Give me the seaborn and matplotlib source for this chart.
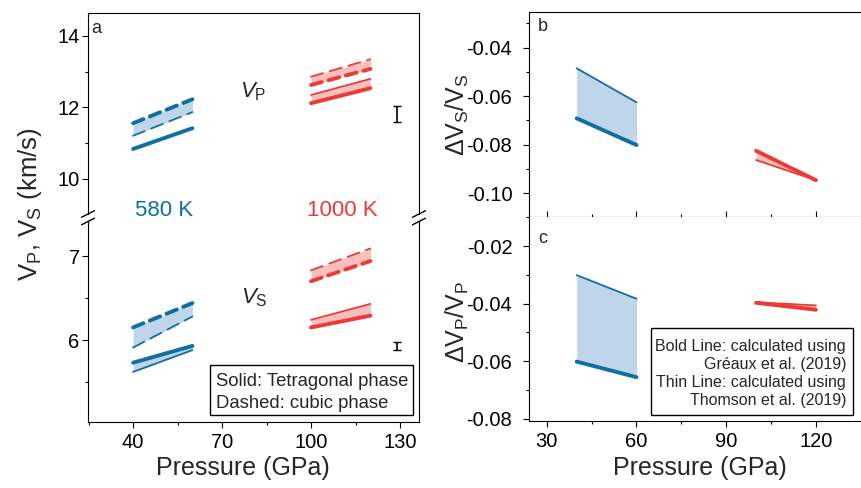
import numpy as np
import pandas as pd
import matplotlib
matplotlib.use("Agg")
import matplotlib.pyplot as plt
import seaborn as sns
from matplotlib.lines import Line2D
from matplotlib.patches import Rectangle
from matplotlib.ticker import MultipleLocator, FixedLocator

# ---------------- data ----------------
P_580 = [40, 60]
P_1000 = [100, 120]

# Panel a, VP (km/s)
vp_580_tet_bold = [10.84, 11.42]
vp_580_cub_bold = [11.56, 12.23]
vp_580_cub_thin = [11.21, 11.87]
vp_1000_tet_bold = [12.12, 12.54]
vp_1000_tet_thin = [12.35, 12.80]
vp_1000_cub_bold = [12.63, 13.08]
vp_1000_cub_thin = [12.86, 13.35]

# Panel a, VS (km/s)
vs_580_tet_bold = [5.73, 5.93]
vs_580_tet_thin = [5.62, 5.88]
vs_580_cub_bold = [6.15, 6.44]
vs_580_cub_thin = [5.91, 6.28]
vs_1000_tet_bold = [6.15, 6.29]
vs_1000_tet_thin = [6.24, 6.43]
vs_1000_cub_bold = [6.70, 6.94]
vs_1000_cub_thin = [6.83, 7.09]

# error bars
err_P = [129]
vp_err_y = [11.82]
vp_err = [0.22]
vs_err_y = [5.93]
vs_err = [0.05]

# Panel b, dVs/Vs
dvs_580_bold = [-0.0691, -0.0801]
dvs_580_thin = [-0.0485, -0.0625]
dvs_1000_bold = [-0.0825, -0.0946]
dvs_1000_thin = [-0.0863, -0.0946]

# Panel c, dVp/Vp
dvp_580_bold = [-0.0601, -0.0655]
dvp_580_thin = [-0.0301, -0.0383]
dvp_1000_bold = [-0.0397, -0.0421]
dvp_1000_thin = [-0.0395, -0.0406]

xticks_a = [40, 70, 100, 130]
xminor_a = [25, 55, 85, 115]
xticks_bc = [30, 60, 90, 120]
xminor_bc = [45, 75, 105]

# ---------------- style ----------------
sns.set_theme(style="ticks")
plt.rcParams.update({
    "font.family": ["Liberation Sans", "DejaVu Sans"],
    "mathtext.fontset": "custom",
    "mathtext.rm": "Liberation Sans",
    "mathtext.it": "Liberation Sans:italic",
    "mathtext.bf": "Liberation Sans:bold",
    "lines.scale_dashes": False,
    "axes.edgecolor": "black",
    "axes.linewidth": 0.8,
    "xtick.color": "black",
    "ytick.color": "black",
})

BLUE = "#0f6fa3"
RED = "#ec3b37"
BLUE_F = "#bfd6ea"
RED_F = "#f8c0bd"
LW_B = 2.8
LW_T = 1.3
DASH_B = (0, (8, 5))
DASH_T = (0, (9, 5))

W, H = 861, 488
fig = plt.figure(figsize=(W / 100, H / 100), dpi=100)


def rect(l, t, r, b):
    return [l / W, 1 - b / H, (r - l) / W, (b - t) / H]


ax_vp = fig.add_axes(rect(88, 13, 419, 214))
ax_vs = fig.add_axes(rect(88, 221, 419, 422))
ax_b = fig.add_axes(rect(529, 12, 862, 217))
ax_c = fig.add_axes(rect(529, 217, 862, 421))


def line(ax, x, y, color, lw, ls="-"):
    sns.lineplot(x=x, y=y, ax=ax, color=color, lw=lw, linestyle=ls,
                 solid_capstyle="round", dash_capstyle="round", zorder=3)


def fill(ax, x, y1, y2, color):
    ax.fill_between(x, y1, y2, color=color, lw=0, zorder=2)


# ---- panel a, VP ----
fill(ax_vp, P_580, vp_580_cub_thin, vp_580_cub_bold, BLUE_F)
fill(ax_vp, P_1000, vp_1000_cub_bold, vp_1000_cub_thin, RED_F)
fill(ax_vp, P_1000, vp_1000_tet_bold, vp_1000_tet_thin, RED_F)
line(ax_vp, P_580, vp_580_tet_bold, BLUE, LW_B)
line(ax_vp, P_580, vp_580_cub_bold, BLUE, LW_B, DASH_B)
line(ax_vp, P_580, vp_580_cub_thin, BLUE, LW_T, DASH_T)
line(ax_vp, P_1000, vp_1000_tet_bold, RED, LW_B)
line(ax_vp, P_1000, vp_1000_tet_thin, RED, LW_T)
line(ax_vp, P_1000, vp_1000_cub_bold, RED, LW_B, DASH_B)
line(ax_vp, P_1000, vp_1000_cub_thin, RED, LW_T, DASH_T)
ax_vp.errorbar(err_P, vp_err_y, yerr=vp_err, fmt="none", ecolor="black",
               elinewidth=1.2, capsize=3, capthick=1.0)

# ---- panel a, VS ----
fill(ax_vs, P_580, vs_580_cub_thin, vs_580_cub_bold, BLUE_F)
fill(ax_vs, P_580, vs_580_tet_thin, vs_580_tet_bold, BLUE_F)
fill(ax_vs, P_1000, vs_1000_cub_bold, vs_1000_cub_thin, RED_F)
fill(ax_vs, P_1000, vs_1000_tet_bold, vs_1000_tet_thin, RED_F)
line(ax_vs, P_580, vs_580_tet_bold, BLUE, LW_B)
line(ax_vs, P_580, vs_580_tet_thin, BLUE, LW_T)
line(ax_vs, P_580, vs_580_cub_bold, BLUE, LW_B, DASH_B)
line(ax_vs, P_580, vs_580_cub_thin, BLUE, LW_T, DASH_T)
line(ax_vs, P_1000, vs_1000_tet_bold, RED, LW_B)
line(ax_vs, P_1000, vs_1000_tet_thin, RED, LW_T)
line(ax_vs, P_1000, vs_1000_cub_bold, RED, LW_B, DASH_B)
line(ax_vs, P_1000, vs_1000_cub_thin, RED, LW_T, DASH_T)
ax_vs.errorbar(err_P, vs_err_y, yerr=vs_err, fmt="none", ecolor="black",
               elinewidth=1.2, capsize=3, capthick=1.0)

# ---- panel b ----
fill(ax_b, P_580, dvs_580_bold, dvs_580_thin, BLUE_F)
fill(ax_b, P_1000, dvs_1000_thin, dvs_1000_bold, RED_F)
line(ax_b, P_580, dvs_580_bold, BLUE, LW_B)
line(ax_b, P_580, dvs_580_thin, BLUE, LW_T)
line(ax_b, P_1000, dvs_1000_bold, RED, LW_B)
line(ax_b, P_1000, dvs_1000_thin, RED, LW_T)

# ---- panel c ----
fill(ax_c, P_580, dvp_580_bold, dvp_580_thin, BLUE_F)
fill(ax_c, P_1000, dvp_1000_bold, dvp_1000_thin, RED_F)
line(ax_c, P_580, dvp_580_bold, BLUE, LW_B)
line(ax_c, P_580, dvp_580_thin, BLUE, LW_T)
line(ax_c, P_1000, dvp_1000_bold, RED, LW_B)
line(ax_c, P_1000, dvp_1000_thin, RED, LW_T)

# ---------------- axes ----------------
TICK_FS = 14.5
for ax in (ax_vp, ax_vs, ax_b, ax_c):
    ax.set_xlabel("")
    ax.set_ylabel("")
    ax.tick_params(which="major", length=4, width=0.8, labelsize=TICK_FS, pad=2)
    ax.tick_params(which="minor", length=2.2, width=0.8)

ax_vp.set_xlim(24.8, 136.4)
ax_vs.set_xlim(24.8, 136.4)
ax_vp.set_ylim(9.021, 14.643)
ax_vs.set_ylim(5.024, 7.417)
ax_vp.yaxis.set_major_locator(MultipleLocator(2))
ax_vp.yaxis.set_minor_locator(MultipleLocator(1))
ax_vs.yaxis.set_major_locator(MultipleLocator(1))
ax_vs.yaxis.set_minor_locator(MultipleLocator(0.5))
ax_vs.set_xticks(xticks_a)
ax_vs.xaxis.set_minor_locator(FixedLocator(xminor_a))
ax_vp.tick_params(axis="x", which="both", bottom=False, labelbottom=False)
ax_vp.spines["bottom"].set_visible(False)
ax_vs.spines["top"].set_visible(False)
ax_vs.tick_params(axis="x", which="major", pad=4)

for ax in (ax_b, ax_c):
    ax.set_xlim(24.06, 135.4)
    ax.set_xticks(xticks_bc)
    ax.xaxis.set_minor_locator(FixedLocator(xminor_bc))
    ax.yaxis.set_major_locator(MultipleLocator(0.02))
    ax.yaxis.set_minor_locator(MultipleLocator(0.01))
    ax.spines["right"].set_visible(False)
    ax.yaxis.set_major_formatter(matplotlib.ticker.FuncFormatter(lambda v, p: f"{v:.2f}"))
    ax.tick_params(axis="y", which="major", pad=8)
ax_b.set_ylim(-0.10977, -0.02529)
ax_c.set_ylim(-0.0807, -0.00994)
ax_b.tick_params(axis="x", which="both", direction="in", labelbottom=False)
ax_c.spines["top"].set_visible(False)
ax_c.tick_params(axis="x", which="major", pad=4)

# ---------------- break marks ----------------
for xc in (88, 419):
    for yc in (214, 221.5):
        fig.add_artist(Line2D([(xc - 6.5) / W, (xc + 6.5) / W],
                              [1 - (yc + 3.3) / H, 1 - (yc - 3.3) / H],
                              color="black", lw=1.0))

# ---------------- texts ----------------
LAB_FS = 18
fig.text(30 / W, 1 - 204 / H, r"V$_\mathrm{P}$, V$_\mathrm{S}$ (km/s)", rotation=90,
         ha="center", va="center", fontsize=18.5)
fig.text(457 / W, 1 - 115 / H, r"ΔV$_\mathrm{S}$/V$_\mathrm{S}$", rotation=90,
         ha="center", va="center", fontsize=LAB_FS)
fig.text(457 / W, 1 - 322 / H, r"ΔV$_\mathrm{P}$/V$_\mathrm{P}$", rotation=90,
         ha="center", va="center", fontsize=LAB_FS)
fig.text(243 / W, 1 - 468 / H, "Pressure (GPa)", ha="center", va="center", fontsize=LAB_FS)
fig.text(700 / W, 1 - 468 / H, "Pressure (GPa)", ha="center", va="center", fontsize=LAB_FS)

ax_vp.text(0.024, 0.925, "a", transform=ax_vp.transAxes, ha="center", va="center", fontsize=13)
ax_b.text(0.042, 0.927, "b", transform=ax_b.transAxes, ha="center", va="center", fontsize=13)
ax_c.text(0.040, 0.897, "c", transform=ax_c.transAxes, ha="center", va="center", fontsize=13)

ax_vp.text(80.6, 12.45, r"$V_\mathrm{P}$", ha="center", va="center", fontsize=16)
ax_vs.text(80.8, 6.50, r"$V_\mathrm{S}$", ha="center", va="center", fontsize=16)
ax_vp.text(50.4, 9.13, "580 K", color=BLUE, ha="center", va="center", fontsize=16)
ax_vp.text(110.7, 9.13, "1000 K", color=RED, ha="center", va="center", fontsize=16)

# legend box, panel a
fig.add_artist(Rectangle((210 / W, 1 - 415 / H), 203 / W, 50 / H, transform=fig.transFigure,
                         fill=False, edgecolor="black", lw=1.0))
fig.text(216 / W, 1 - 382 / H, "Solid: Tetragonal phase", ha="left", va="center", fontsize=13.3)
fig.text(216 / W, 1 - 403 / H, "Dashed: cubic phase", ha="left", va="center", fontsize=13.3)

# legend box, panel c
fig.add_artist(Rectangle((651 / W, 1 - 415 / H), 202 / W, 87 / H, transform=fig.transFigure,
                         fill=False, edgecolor="black", lw=1.0))
for txt, yy in (("Bold Line: calculated using", 346), ("Gréaux et al. (2019)", 364),
                ("Thin Line: calculated using", 383), ("Thomson et al. (2019)", 401)):
    fig.text(846 / W, 1 - yy / H, txt, ha="right", va="center", fontsize=11.5)

fig.savefig("out.png", dpi=100)
